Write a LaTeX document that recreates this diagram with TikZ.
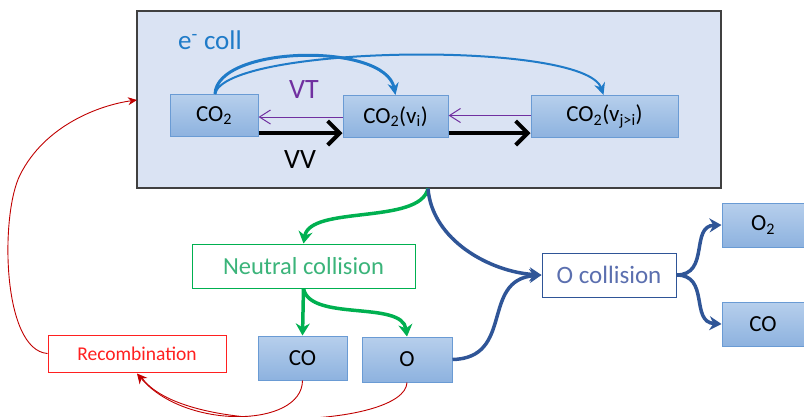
\documentclass[tikz,border=0pt]{standalone}
\usepackage{fontspec}
\setmainfont{Carlito}
\usetikzlibrary{arrows.meta,calc}
\definecolor{boxbg}{HTML}{DAE3F3}
\definecolor{boxline}{HTML}{404040}
\definecolor{gtop}{HTML}{B7CFEC}
\definecolor{gbot}{HTML}{8DB2DF}
\definecolor{gborder}{HTML}{6A9BD4}
\definecolor{ecoll}{HTML}{1F7BC8}
\definecolor{vtcol}{HTML}{7030A0}
\definecolor{ncgreen}{HTML}{00B050}
\definecolor{nctext}{HTML}{3BB47A}
\definecolor{dblue}{HTML}{2F5597}
\definecolor{octext}{HTML}{5B6FAF}
\definecolor{recred}{HTML}{FF2020}
\definecolor{darkred}{HTML}{C00000}
\begin{document}
\begin{tikzpicture}[x=1pt,y=-1pt,
  species/.style={draw=gborder, line width=1pt, top color=gtop, bottom color=gbot,
    minimum height=42pt, inner sep=0pt, font=\fontsize{23}{27}\selectfont},
  procbox/.style={fill=white, line width=1pt, minimum height=44pt, inner sep=0pt},
  elarrow/.style={ecoll, -{Stealth[length=12pt,width=11pt]}},
  vtline/.style={vtcol, line width=1pt},
  vvarrow/.style={black, line width=4pt, -{Straight Barb[length=12pt,width=24pt]}},
  grarrow/.style={ncgreen, line width=3.5pt, -{Stealth[length=12pt,width=14pt]}},
  blarrow/.style={dblue, line width=3.5pt, -{Stealth[length=12pt,width=14pt]}},
  redline/.style={darkred, line width=0.9pt},
]
\useasboundingbox (0,0) rectangle (804,416);

% main box
\node[draw=boxline, fill=boxbg, line width=1.3pt, minimum width=584pt, minimum height=177pt, inner sep=0pt] (main) at (429,99.5) {};
\node[text=ecoll, font=\fontsize{27}{31}\selectfont] (ecl) at (210,40) {e\textsuperscript{-} coll};

% species in main box
\node[species, minimum width=88pt] (co2) at (214,115.5) {CO\textsubscript{2}};
\node[species, minimum width=105pt] (co2vi) at (395.5,116.5) {CO\textsubscript{2}(v\textsubscript{i})};
\node[species, minimum width=147pt] (co2vj) at (604.5,116.5) {CO\textsubscript{2}(v\textsubscript{j>i})};

% electron collision arcs
\draw[elarrow, line width=3pt] ($(co2.north)+(1,0)$) .. controls (217,45) and (385,42) .. (co2vi.north);
\draw[elarrow, line width=2pt] ($(co2.north)+(1,0)$) .. controls (225,45) and (585,40) .. ($(co2vj.north)+(-1,0)$);

% VT arrows (open chevron heads)
\coordinate (vt1) at ($(co2.east)+(1,1.5)$);
\coordinate (vt2) at ($(co2vi.east)+(1,-1)$);
\draw[vtline] ($(co2vi.west)+(0,0.5)$) -- (vt1);
\draw[vtline, line join=miter] ($(vt1)+(11,-7)$) -- (vt1) -- ($(vt1)+(11,7)$);
\draw[vtline] ($(co2vj.west)+(0,-1)$) -- (vt2);
\draw[vtline, line join=miter] ($(vt2)+(11,-7)$) -- (vt2) -- ($(vt2)+(11,7)$);
\node[text=vtcol, font=\fontsize{28}{32}\selectfont] (vt) at (304,90) {VT};

% VV arrows
\draw[vvarrow] ($(co2.east)+(0,17.5)$) -- ($(co2vi.west)+(0,16.5)$);
\draw[vvarrow] ($(co2vi.east)+(0,16.5)$) -- ($(co2vj.west)+(0,16.5)$);
\node[text=black, font=\fontsize{28}{32}\selectfont] (vv) at (300,160) {VV};

% lower nodes
\node[procbox, draw=ncgreen, text=nctext, minimum width=223pt, font=\fontsize{24.5}{29}\selectfont] (nc) at (303.5,266) {Neutral collision};
\node[species, minimum width=89pt, minimum height=44pt] (co) at (302.5,358) {CO};
\node[species, minimum width=90pt, minimum height=45pt] (o) at (407,359.5) {O};
\node[procbox, draw=recred, text=recred, minimum width=178pt, minimum height=37pt, font=\fontsize{19.5}{23}\selectfont] (rec) at (137,353.5) {Recombination};
\node[procbox, draw=dblue, text=octext, minimum width=134pt, font=\fontsize{25}{29}\selectfont] (oc) at (609,275) {O collision};
\node[species, minimum width=82pt, minimum height=44pt] (o2) at (763,225) {O\textsubscript{2}};
\node[species, minimum width=82pt, minimum height=44pt] (co3) at (763,324) {CO};

% green arrows
\coordinate (mb) at (428,188.5);
\draw[grarrow] (mb) .. controls (420,225) and (310,205) .. (nc.north);
\draw[grarrow] (nc.south) -- (co.north);
\draw[grarrow] (nc.south) .. controls (310,322) and (402,300) .. (o.north);

% dark blue arrows
\draw[blarrow] (mb) .. controls (432,240) and (490,272) .. (oc.west);
\draw[blarrow] (o.east) .. controls (515,358) and (480,280) .. (oc.west);
\draw[blarrow] (oc.east) .. controls (710,275) and (690,226) .. (o2.west);
\draw[blarrow] (oc.east) .. controls (710,275) and (690,322) .. (co3.west);

% red recombination paths
\coordinate (mainin) at (137,100);
\draw[redline, -{Stealth[length=9pt,width=8pt]}] (rec.west) .. controls (2,350) and (0,215) .. (20,175) .. controls (45,125) and (100,105) .. (mainin);
\draw[redline, -{Stealth[length=10pt,width=10pt]}] (co.south) .. controls (302,428) and (185,430) .. ($(rec.south)+(0,1)$);
\draw[redline] (o.south) .. controls (405,428) and (180,436) .. ($(rec.south)+(4,4)$);
\end{tikzpicture}
\end{document}
